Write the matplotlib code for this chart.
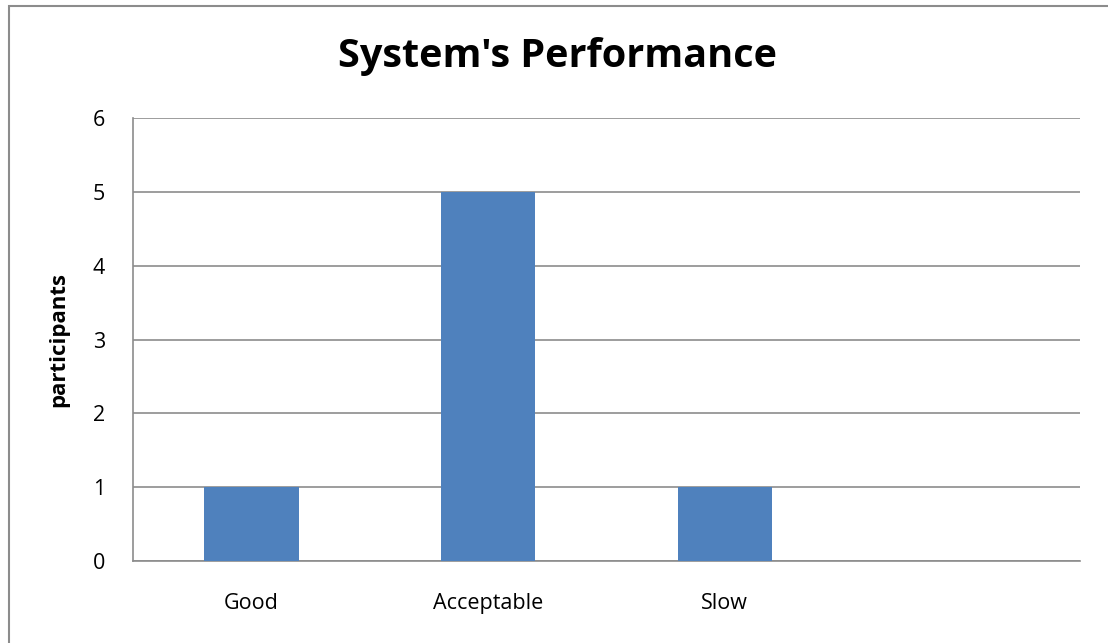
import matplotlib.pyplot as plt
from matplotlib.patches import Rectangle

# survey responses
categories = ["Good", "Acceptable", "Slow", ""]
participants = [1, 5, 1, 0]
yticks = [0, 1, 2, 3, 4, 5, 6]

W, H = 1108, 643
fig = plt.figure(figsize=(W / 100, H / 100), dpi=100)
plt.rcParams["font.family"] = ["Open Sans", "DejaVu Sans"]

# outer chart frame (only left/top edges show in the crop)
fig.patches.append(Rectangle((9 / W, -0.05), 1.2, 1 - 6 / H + 0.05,
                             transform=fig.transFigure, fill=False,
                             edgecolor="#8c8c8c", linewidth=1.5))

ax = fig.add_axes([133 / W, 1 - 561 / H, (1080 - 133) / W, (561 - 118) / H])
x = list(range(len(categories)))
ax.bar(x, participants, width=0.4, color="#4f81bd", zorder=3)

ax.set_xlim(-0.5, len(categories) - 0.5)
ax.set_ylim(0, 6)
ax.set_yticks(yticks)
ax.set_xticks(x)
ax.set_xticklabels(categories, fontsize=15.5)
ax.tick_params(axis="y", labelsize=15.5, length=0, pad=20)
ax.tick_params(axis="x", length=0, pad=23)
ax.grid(axis="y", color="#8c8c8c", linewidth=1.2, zorder=0)

for side in ("top", "right"):
    ax.spines[side].set_visible(False)
for side in ("left", "bottom"):
    ax.spines[side].set_color("#8c8c8c")
    ax.spines[side].set_linewidth(1.2)

ax.set_ylabel("participants", fontsize=16, fontweight="bold", labelpad=17)
fig.text(558 / W, 1 - 56 / H, "System's Performance", ha="center", va="center",
         fontsize=28.5, fontweight="bold")

fig.savefig("out.png", dpi=100)
